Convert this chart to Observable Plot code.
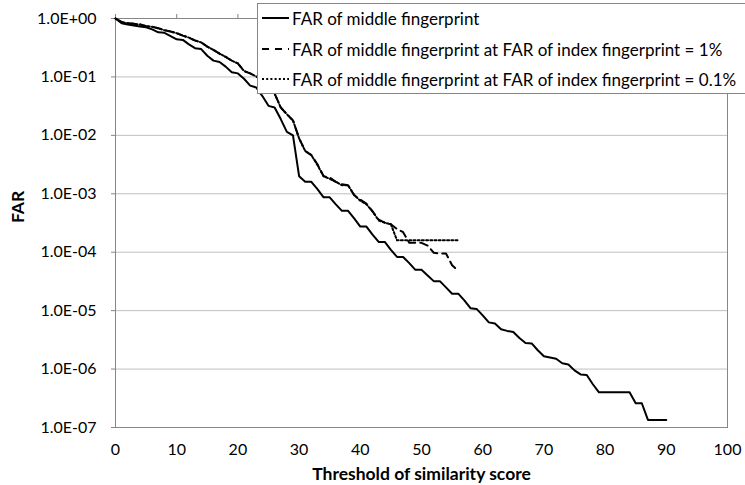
<!DOCTYPE html>
<html>
<head>
<meta charset="utf-8">
<script src="https://cdn.jsdelivr.net/npm/d3@7"></script>
<script src="https://cdn.jsdelivr.net/npm/@observablehq/plot@0.6"></script>
<style>
  body { margin: 0; background: #fff; overflow: hidden; }
  #wrap { position: relative; width: 745px; height: 485px; overflow: hidden; font-family: Lato, sans-serif; }
  .legend { position: absolute; left: 257px; top: 3px; width: 520px; height: 89px; background: #fff; border: 1px solid #868686; font-size: 17px; color: #000; }
  .row { position: absolute; left: 4px; height: 22px; display: flex; align-items: center; white-space: nowrap; }
  .row svg { margin-right: 3px; }
</style>
</head>
<body>
<div id="wrap"></div>
<script>
// Thresholds of similarity score
const thresholdMiddle = [0,1,2,3,4,5,6,7,8,9,10,11,12,13,14,15,16,17,18,19,20,21,22,23,24,25,26,27,28,29,30,31,32,33,34,35,36,37,38,39,40,41,42,43,44,45,46,47,48,49,50,51,52,53,54,55,56,57,58,59,60,61,62,63,64,65,66,67,68,69,70,71,72,73,74,75,76,77,78,79,80,81,82,83,84,85,86,87,88,89,90];
const farMiddle = [1.0,0.83,0.79,0.76,0.73,0.71,0.65,0.58,0.57,0.50,0.44,0.43,0.36,0.31,0.30,0.23,0.19,0.18,0.15,0.12,0.115,0.093,0.071,0.066,0.047,0.032,0.030,0.019,0.0115,0.010,2.0e-3,1.6e-3,1.6e-3,1.2e-3,8.7e-4,8.7e-4,6.6e-4,5.1e-4,5.1e-4,3.8e-4,2.75e-4,2.75e-4,2.0e-4,1.5e-4,1.5e-4,1.1e-4,8.3e-5,8.3e-5,6.5e-5,5.0e-5,5.0e-5,4.0e-5,3.2e-5,3.2e-5,2.5e-5,1.95e-5,1.95e-5,1.5e-5,1.1e-5,1.07e-5,8.3e-6,6.3e-6,6.0e-6,4.8e-6,4.5e-6,4.3e-6,3.4e-6,2.8e-6,2.75e-6,2.1e-6,1.66e-6,1.58e-6,1.5e-6,1.26e-6,1.2e-6,9.5e-7,8.1e-7,7.9e-7,5.5e-7,4.0e-7,4.0e-7,4.0e-7,4.0e-7,4.0e-7,4.0e-7,2.6e-7,2.6e-7,1.35e-7,1.35e-7,1.35e-7,1.35e-7];

const thresholdIndex = [0,1,2,3,4,5,6,7,8,9,10,11,12,13,14,15,16,17,18,19,20,21,22,23,24,25,26,27,28,29,30,31,32,33,34,35,36,37,38,39,40,41,42,43,44,45,46,47,48,49,50,51,52,53,54,55,56];
const farAt1pct = [1.0,0.87,0.83,0.81,0.79,0.74,0.72,0.68,0.63,0.60,0.56,0.51,0.47,0.42,0.39,0.33,0.29,0.25,0.22,0.19,0.17,0.126,0.115,0.102,0.089,0.076,0.052,0.030,0.023,0.018,8.9e-3,5.4e-3,4.6e-3,3.2e-3,2.0e-3,1.9e-3,1.6e-3,1.45e-3,1.4e-3,9.5e-4,7.9e-4,6.8e-4,5.0e-4,3.6e-4,3.2e-4,3.0e-4,2.5e-4,2.2e-4,1.45e-4,1.45e-4,1.45e-4,1.3e-4,9.8e-5,9.5e-5,9.5e-5,6.0e-5,4.8e-5];
const farAt01pct = [1.0,0.87,0.83,0.81,0.79,0.74,0.72,0.68,0.63,0.60,0.56,0.51,0.47,0.42,0.39,0.33,0.29,0.25,0.22,0.19,0.17,0.126,0.115,0.102,0.089,0.076,0.052,0.030,0.023,0.018,8.9e-3,5.4e-3,4.6e-3,3.1e-3,2.0e-3,1.8e-3,1.6e-3,1.4e-3,1.4e-3,9.5e-4,7.6e-4,6.6e-4,5.0e-4,3.5e-4,3.2e-4,3.0e-4,1.6e-4,1.6e-4,1.6e-4,1.6e-4,1.6e-4,1.6e-4,1.6e-4,1.6e-4,1.6e-4,1.6e-4,1.6e-4];

const seriesLabels = [
  "FAR of middle fingerprint",
  "FAR of middle fingerprint at FAR of index fingerprint = 1%",
  "FAR of middle fingerprint at FAR of index fingerprint = 0.1%"
];
const xTicks = [0,10,20,30,40,50,60,70,80,90,100];
const yTicks = [1,1e-1,1e-2,1e-3,1e-4,1e-5,1e-6,1e-7];
const yGrid = [1e-1,1e-2,1e-3,1e-4,1e-5,1e-6];
const xTitle = "Threshold of similarity score";
const yTitle = "FAR";

const toRows = (xs, ys) => xs.map((x, i) => ({x, y: ys[i]}));
const middle = toRows(thresholdMiddle, farMiddle);
const at1 = toRows(thresholdIndex, farAt1pct);
const at01 = toRows(thresholdIndex, farAt01pct);

const fmtE = d => {
  const e = Math.round(Math.log10(d));
  return "1.0E" + (e >= 0 ? "+" : "-") + String(Math.abs(e)).padStart(2, "0");
};

const dashStyles = [null, "8,5", "2,2.2"];

const chart = Plot.plot({
  width: 745,
  height: 485,
  marginLeft: 115,
  marginRight: 18,
  marginTop: 18,
  marginBottom: 58,
  style: { fontFamily: "Lato, sans-serif", fontSize: "16px", color: "#000", background: "#fff" },
  x: { domain: [0, 100], ticks: xTicks },
  y: { type: "log", domain: [1e-7, 1], ticks: yTicks },
  marks: [
    Plot.gridY(yGrid, { stroke: "#bfbfbf", strokeOpacity: 1, strokeWidth: 1 }),
    Plot.frame({ stroke: "#868686", strokeWidth: 1 }),
    Plot.axisX({ anchor: "top", ticks: xTicks, tickSize: 5, tickFormat: () => "", stroke: "#868686", label: null }),
    Plot.axisX({ anchor: "bottom", ticks: xTicks, tickSize: 0, tickPadding: 16, label: null, fontSize: 16 }),
    Plot.axisY({ ticks: yTicks, tickSize: 4, tickPadding: 15, tickFormat: fmtE, stroke: "#868686", label: null, fontSize: 16 }),
    Plot.text([xTitle], { frameAnchor: "bottom", dy: 52, fontWeight: "bold", fontSize: 17.5 }),
    Plot.text([yTitle], { frameAnchor: "left", dx: -97, rotate: -90, fontWeight: "bold", fontSize: 17.5 }),
    Plot.line(middle, { x: "x", y: "y", stroke: "black", strokeWidth: 2 }),
    Plot.line(at1, { x: "x", y: "y", stroke: "black", strokeWidth: 2, strokeDasharray: dashStyles[1] }),
    Plot.line(at01, { x: "x", y: "y", stroke: "black", strokeWidth: 2, strokeDasharray: dashStyles[2] })
  ]
});

const wrap = document.getElementById("wrap");
wrap.appendChild(chart);

// Legend (overlays the plot like the original)
const legend = document.createElement("div");
legend.className = "legend";
const rowTops = [3, 34, 64];
seriesLabels.forEach((label, i) => {
  const row = document.createElement("div");
  row.className = "row";
  row.style.top = rowTops[i] + "px";
  const dash = dashStyles[i] ? ` stroke-dasharray="${i === 1 ? '7,6' : '2,2.2'}"` : "";
  row.innerHTML = `<svg width="27" height="6"><line x1="0" y1="3" x2="27" y2="3" stroke="black" stroke-width="2"${dash}/></svg><span>${label}</span>`;
  legend.appendChild(row);
});
wrap.appendChild(legend);
</script>
</body>
</html>
